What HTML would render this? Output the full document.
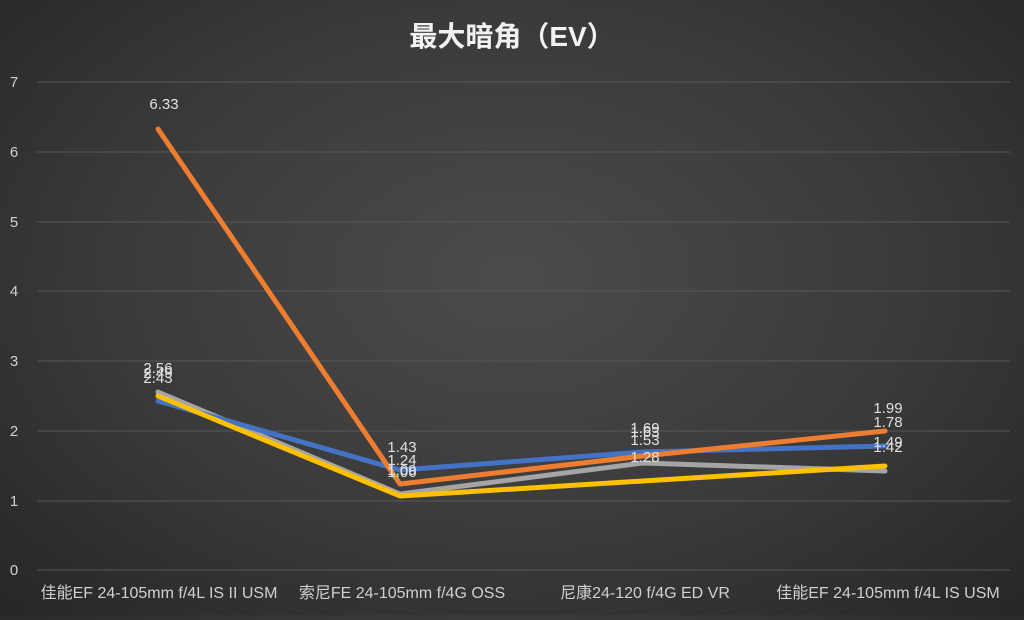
<!DOCTYPE html>
<html><head><meta charset="utf-8"><style>
html,body{margin:0;padding:0;}
body{width:1024px;height:615px;overflow:hidden;background:radial-gradient(ellipse at 50% 45%,#4b4b4b 0%,#3a3a3a 55%,#262626 100%);}
svg text{font-family:"Liberation Sans","Noto Sans CJK SC",sans-serif;}
</style></head><body>
<svg width="1024" height="615" xmlns="http://www.w3.org/2000/svg">
<text x="512" y="46" text-anchor="middle" font-size="28" font-weight="bold" fill="#f2f2f2">最大暗角（EV）</text>
<g stroke="#575757" stroke-width="1">
<line x1="37" y1="82" x2="1010" y2="82"/><line x1="37" y1="152" x2="1010" y2="152"/>
<line x1="37" y1="222" x2="1010" y2="222"/><line x1="37" y1="291" x2="1010" y2="291"/>
<line x1="37" y1="361" x2="1010" y2="361"/><line x1="37" y1="431" x2="1010" y2="431"/>
<line x1="37" y1="501" x2="1010" y2="501"/><line x1="37" y1="570" x2="1010" y2="570"/>
</g>
<g fill="#d0d0d0" font-size="15" text-anchor="middle">
<text x="14" y="87">7</text><text x="14" y="157">6</text><text x="14" y="227">5</text><text x="14" y="296">4</text>
<text x="14" y="366">3</text><text x="14" y="436">2</text><text x="14" y="506">1</text><text x="14" y="575">0</text>
</g>
<g fill="#d0d0d0" font-size="16" text-anchor="middle">
<text x="159" y="598">佳能EF 24-105mm f/4L IS II USM</text>
<text x="402" y="598">索尼FE 24-105mm f/4G OSS</text>
<text x="645" y="598">尼康24-120 f/4G ED VR</text>
<text x="888" y="598">佳能EF 24-105mm f/4L IS  USM</text>
</g>
<g fill="none" stroke-width="5" stroke-linejoin="round" stroke-linecap="round">
<polyline stroke="#a5a5a5" points="158,392 400,494 643,463 885,471"/>
<polyline stroke="#4472c4" points="158,401 400,470 643,452 885,446"/>
<polyline stroke="#ffc000" points="158,396 400,496 643,481 885,466"/>
<polyline stroke="#ed7d31" points="158,129 400,484 643,456 885,431"/>
</g>
<g fill="#e0e0e0" font-size="15" text-anchor="middle">
<text x="164" y="109">6.33</text>
<text x="158" y="373">2.56</text><text x="158" y="378">2.49</text><text x="158" y="383">2.43</text>
<text x="402" y="452">1.43</text><text x="402" y="465">1.24</text><text x="402" y="475">1.09</text><text x="402" y="477">1.06</text>
<text x="645" y="433">1.69</text><text x="645" y="437">1.63</text><text x="645" y="445">1.53</text><text x="645" y="462">1.28</text>
<text x="888" y="413">1.99</text><text x="888" y="427">1.78</text><text x="888" y="447">1.49</text><text x="888" y="452">1.42</text>
</g>
</svg>
</body></html>
